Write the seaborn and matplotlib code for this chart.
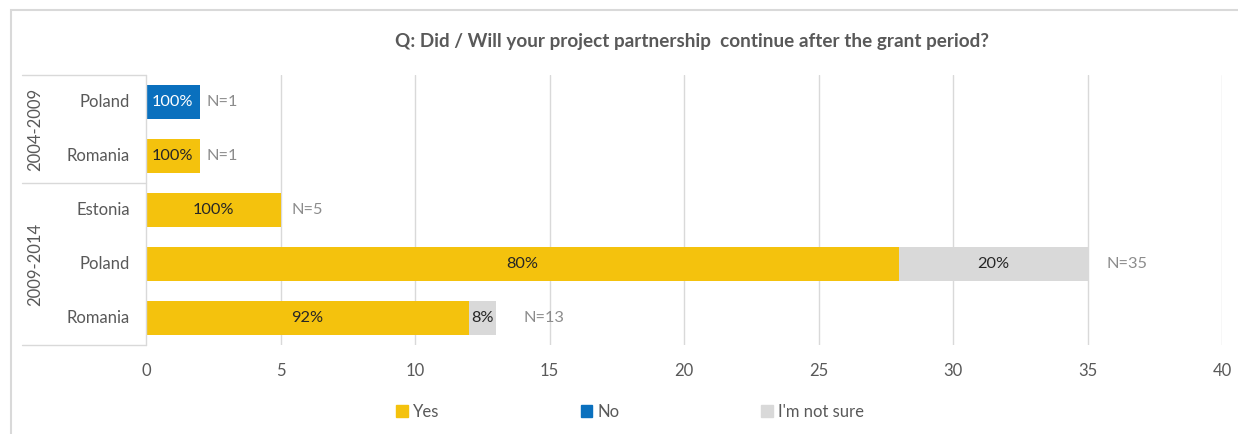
import matplotlib
matplotlib.use("Agg")
import matplotlib.pyplot as plt
from matplotlib.patches import Rectangle
from matplotlib.lines import Line2D
import seaborn as sns
import pandas as pd
import numpy as np

# Survey answers per programme period and country (bar lengths on the count axis)
periods = ["2004-2009", "2004-2009", "2009-2014", "2009-2014", "2009-2014"]
countries = ["Poland", "Romania", "Estonia", "Poland", "Romania"]
yes_vals = [0, 2, 5, 28, 12]
no_vals = [2, 0, 0, 0, 0]
notsure_vals = [0, 0, 0, 7, 1]
yes_labels = ["", "100%", "100%", "80%", "92%"]
no_labels = ["100%", "", "", "", ""]
notsure_labels = ["", "", "", "20%", "8%"]
n_labels = ["N=1", "N=1", "N=5", "N=35", "N=13"]
series_names = ["Yes", "No", "I'm not sure"]
title = "Q: Did / Will your project partnership  continue after the grant period?"

C_YES = "#F4C20D"
C_NO = "#0A70BE"
C_NS = "#D9D9D9"
GRID = "#D9D9D9"
TXT = "#595959"

sns.set_theme(style="white")
plt.rcParams["font.family"] = ["Lato", "DejaVu Sans"]

df = pd.DataFrame({
    "key": [f"{p}|{c}" for p, c in zip(periods, countries)],
    "yes": yes_vals, "no": no_vals, "ns": notsure_vals,
})
df["yes_no"] = df["yes"] + df["no"]
df["total"] = df["yes_no"] + df["ns"]

fig = plt.figure(figsize=(12.38, 4.34), dpi=100)
ax = fig.add_axes([146 / 1238, 1 - 345 / 434, (1222 - 146) / 1238, (345 - 75) / 434])

order = list(df["key"])
bw = 0.63
# Stacked bars drawn as overlapping cumulative totals
sns.barplot(data=df, y="key", x="total", order=order, color=C_NS, width=bw,
            saturation=1, orient="h", ax=ax, linewidth=0)
sns.barplot(data=df, y="key", x="yes_no", order=order, color=C_NO, width=bw,
            saturation=1, orient="h", ax=ax, linewidth=0)
sns.barplot(data=df, y="key", x="yes", order=order, color=C_YES, width=bw,
            saturation=1, orient="h", ax=ax, linewidth=0)

ax.set_xlim(0, 40)
ax.set_ylim(len(order) - 0.5, -0.5)
ax.set_xticks(range(0, 41, 5))
ax.tick_params(axis="x", colors=TXT, labelsize=12, length=0, pad=13)
ax.set_yticks([])
ax.set_xlabel("")
ax.set_ylabel("")
for s in ax.spines.values():
    s.set_visible(False)
ax.grid(False)
for xv in range(5, 41, 5):
    ax.axvline(xv, color=GRID, lw=1, zorder=0)

# Value labels inside segments and N labels beyond each bar
n_pad = [5, 5, 8, 13.5, 20]
for i, row in df.iterrows():
    if yes_labels[i]:
        ax.text(row["yes"] / 2, i, yes_labels[i], ha="center", va="center",
                fontsize=11.8, color="#262626")
    if no_labels[i]:
        ax.text(row["yes"] + row["no"] / 2, i, no_labels[i], ha="center",
                va="center", fontsize=11.8, color="white")
    if notsure_labels[i]:
        ax.text(row["yes_no"] + row["ns"] / 2, i, notsure_labels[i], ha="center",
                va="center", fontsize=11.8, color="#262626")
    ax.annotate(n_labels[i], (row["total"], i), xytext=(n_pad[i], 0),
                textcoords="offset points", ha="left", va="center",
                fontsize=11.8, color="#8C8C8C")

# Two-level category axis: country labels and period group boxes
tr = ax.get_yaxis_transform()
for i, c in enumerate(countries):
    ax.text(-16 / 1076, i, c, transform=tr, ha="right", va="center",
            fontsize=12, color=TXT)
x_box = -(146 - 22) / 1076
line_kw = dict(transform=tr, color=GRID, lw=1, clip_on=False)
ax.add_line(Line2D([x_box, 0], [-0.5, -0.5], **line_kw))
ax.add_line(Line2D([x_box, 0], [1.5, 1.5], **line_kw))
ax.add_line(Line2D([x_box, 0], [4.5, 4.5], **line_kw))
ax.add_line(Line2D([0, 0], [-0.5, 4.5], **line_kw))

groups = []
for i, p in enumerate(periods):
    if not groups or groups[-1][0] != p:
        groups.append([p, i, i])
    else:
        groups[-1][2] = i
for p, a, b in groups:
    ax.text(-(146 - 35) / 1076, (a + b) / 2, p, transform=tr, rotation=90,
            ha="center", va="center", fontsize=12, color=TXT)

fig.text(692 / 1238, 1 - 42 / 434, title, ha="center", va="center",
         fontsize=13.6, fontweight="bold", color="#595959")

# Legend
handles = [Rectangle((0, 0), 1, 1, color=c) for c in (C_YES, C_NO, C_NS)]
fig.legend(handles, series_names, loc="center", bbox_to_anchor=(630 / 1238, 1 - 412 / 434),
           ncol=3, frameon=False, fontsize=12, labelcolor=TXT, handlelength=0.7,
           handleheight=0.7, handletextpad=0.3, columnspacing=8.5)

# Chart border
fig.patches.append(Rectangle((11 / 1238, -0.1), 1.2, 1 - 10 / 434 + 0.1,
                             transform=fig.transFigure, fill=False,
                             edgecolor="#D9D9D9", lw=1.5))

fig.savefig("out.png", dpi=100, facecolor="white")
